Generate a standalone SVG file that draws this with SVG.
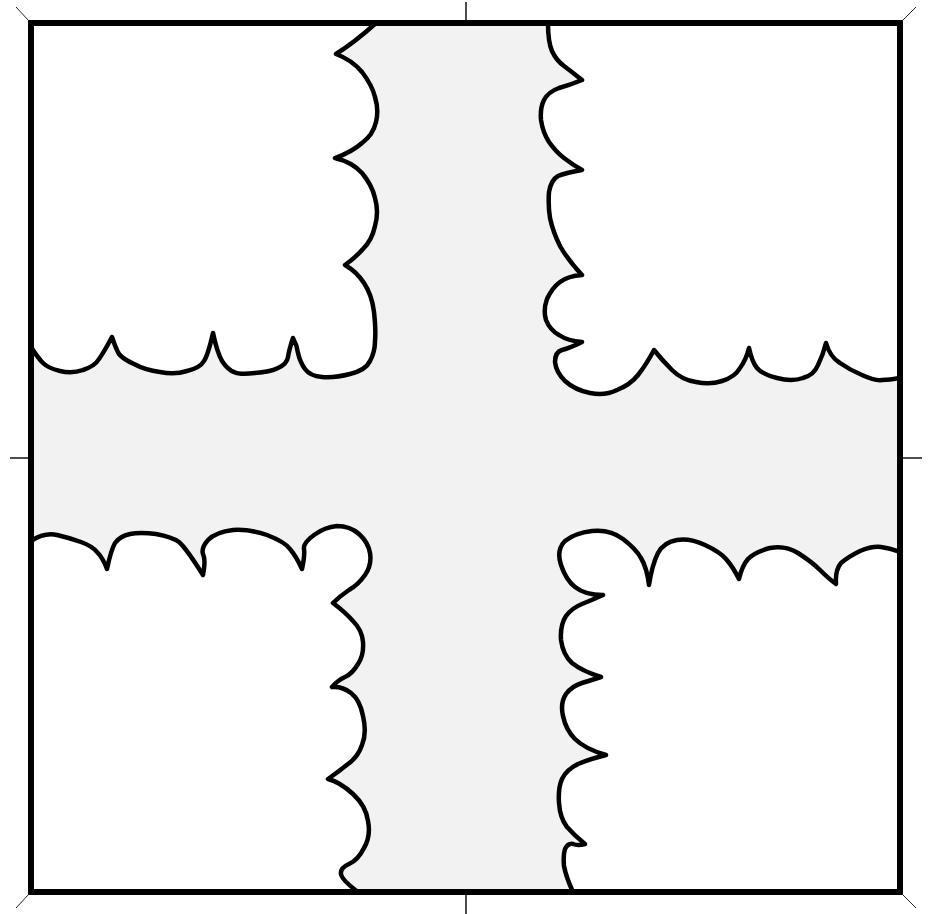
<svg xmlns="http://www.w3.org/2000/svg" width="932" height="914" viewBox="0 0 932 914">
<style>
.blk{fill:#ffffff;stroke:#000;stroke-width:4.5;stroke-linejoin:round;stroke-linecap:round}
.tick{stroke:#4d4d4d;stroke-width:2}
.diag{stroke:#222;stroke-width:1}
</style>
<defs><clipPath id="fr"><rect x="31" y="23" width="869" height="869"/></clipPath></defs>
<rect x="31" y="23" width="869" height="869" fill="#f2f2f2"/>
<g clip-path="url(#fr)">
<g id="block-nw"><path class="blk" d="M376,23 Q355,42 336,54 Q352,60 362,72 Q372,85 375,97 Q379,110 376,122 Q373,135 362,143 Q352,152 335,158 Q352,162 362,173 Q372,185 375,198 Q379,212 375,226 Q372,240 363,249 Q355,258 345,265 Q357,272 364,283 Q372,295 374,312 Q376,330 375,341 Q375,352 370,361 Q366,370 350,374 Q335,378 322,377 Q310,376 305,369 Q300,362 298,353 Q297,345 293,338 Q289,350 288,357 Q287,364 278,368 Q270,372 255,373 Q240,375 234,372 Q228,370 222,361 Q217,352 213,333 Q208,355 204,361 Q200,368 187,371 Q175,375 160,372 Q145,370 134,364 Q123,359 119,354 Q116,349 112,337 Q104,352 99,359 Q95,366 83,370 Q72,374 60,371 Q48,368 43,363 Q38,358 31,347 L31,23 Z"/></g>
<g id="block-ne"><path class="blk" d="M548,23 Q548,42 552,51 Q556,60 564,66 Q572,72 582,80 Q570,85 559,88 Q548,92 544,100 Q540,108 541,120 Q543,133 549,142 Q556,152 564,158 Q573,165 582,170 Q565,173 558,176 Q551,180 549,192 Q548,205 550,218 Q553,232 560,246 Q568,260 582,275 Q568,276 560,282 Q552,288 547,299 Q543,310 546,320 Q550,330 559,335 Q568,341 582,342 Q570,348 562,350 Q555,352 555,362 Q556,372 565,381 Q575,390 590,393 Q605,396 617,390 Q630,385 638,375 Q646,365 654,350 Q662,360 672,370 Q682,380 696,382 Q710,385 722,381 Q735,377 740,368 Q746,360 749,348 Q752,362 757,368 Q762,374 777,378 Q792,382 803,378 Q814,375 818,365 Q823,355 826,343 Q830,357 840,363 Q850,370 862,375 Q875,381 882,380 Q890,380 900,378 L900,23 Z"/></g>
<g id="block-sw"><path class="blk" d="M31,541 Q45,532 57,535 Q70,538 81,542 Q92,546 97,552 Q103,558 107,569 Q111,550 115,543 Q120,536 130,534 Q140,532 156,534 Q172,537 179,542 Q186,548 203,575 Q206,560 203,554 Q201,548 208,540 Q216,532 233,530 Q250,529 267,535 Q285,542 290,549 Q296,556 302,569 Q305,555 304,549 Q303,543 314,535 Q325,527 337,526 Q350,526 359,534 Q368,542 370,553 Q372,565 365,575 Q358,585 349,590 Q340,596 333,603 Q345,612 353,621 Q362,630 363,642 Q364,655 358,664 Q352,674 345,677 Q338,680 332,687 Q342,686 351,693 Q360,700 363,716 Q367,733 362,745 Q358,757 348,764 Q338,772 328,779 Q340,782 353,794 Q366,806 368,821 Q371,836 364,848 Q358,860 349,864 Q340,868 341,874 Q342,880 358,892 L31,892 Z"/></g>
<g id="block-se"><path class="blk" d="M573,892 Q566,877 564,866 Q563,855 565,849 Q568,843 573,844 Q578,846 585,844 Q575,836 567,827 Q560,818 559,803 Q558,788 562,779 Q566,770 578,764 Q590,759 606,755 Q585,749 575,739 Q566,730 563,716 Q560,703 566,694 Q572,686 582,683 Q592,680 601,677 Q582,671 572,663 Q563,655 561,640 Q560,625 566,616 Q572,608 582,604 Q592,600 603,595 Q585,595 575,587 Q566,580 561,565 Q556,550 565,541 Q575,533 592,531 Q610,529 623,539 Q636,549 641,558 Q647,568 649,585 Q652,565 658,553 Q664,542 677,540 Q690,538 705,545 Q720,552 726,559 Q733,567 739,579 Q742,566 748,559 Q755,552 770,548 Q785,545 798,553 Q812,562 820,570 Q829,579 836,584 Q835,570 841,563 Q848,557 860,551 Q872,546 881,547 Q890,548 900,552 L900,892 Z"/></g>
</g>
<g id="frame">
<rect x="31" y="23" width="869" height="869" fill="none" stroke="#000" stroke-width="6"/>
<line class="tick" x1="466" y1="2" x2="466" y2="20"/>
<line class="tick" x1="466" y1="895" x2="466" y2="914"/>
<line class="tick" x1="10" y1="458" x2="28" y2="458"/>
<line class="tick" x1="903" y1="458" x2="922" y2="458"/>
<line class="diag" x1="16" y1="7" x2="29" y2="21"/>
<line class="diag" x1="902" y1="21" x2="916" y2="7"/>
<line class="diag" x1="16" y1="908" x2="29" y2="894"/>
<line class="diag" x1="902" y1="894" x2="916" y2="908"/>
</g>
</svg>
